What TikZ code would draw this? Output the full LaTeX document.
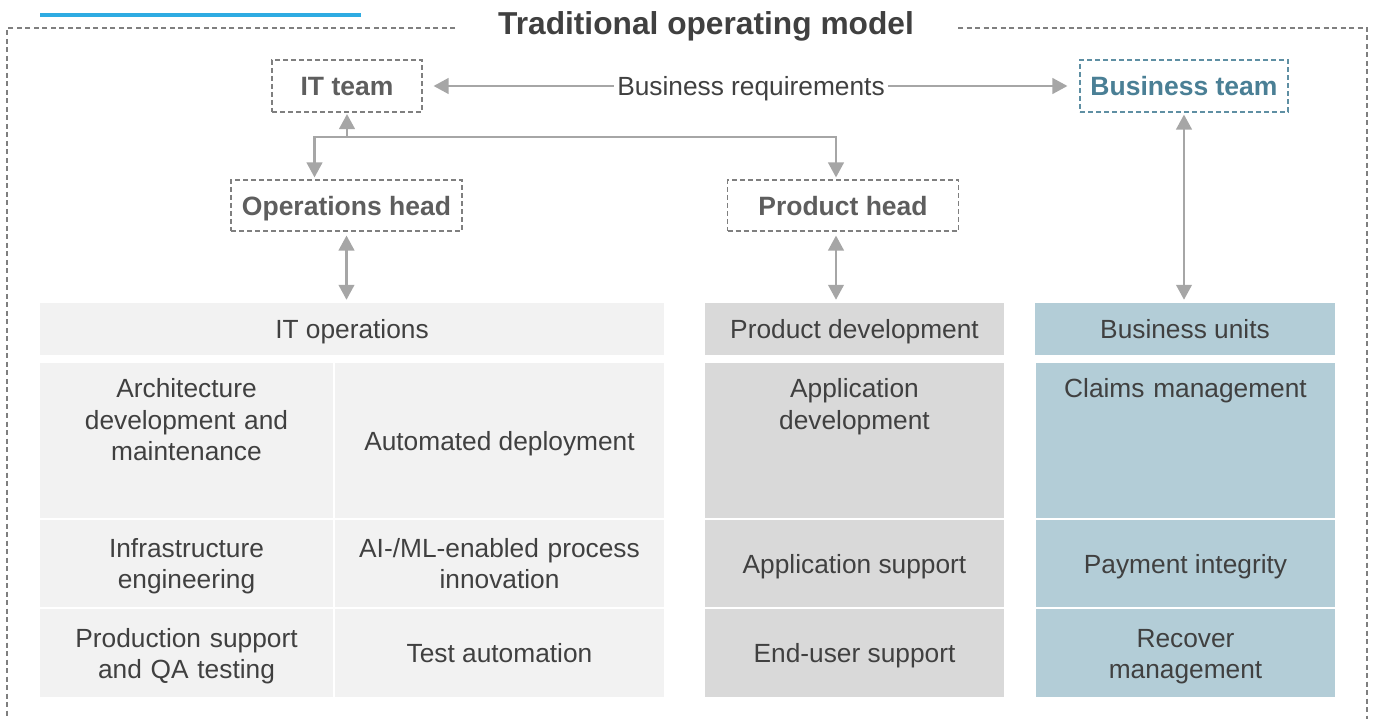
\documentclass[tikz,border=0pt]{standalone}
\usepackage{fontspec}
\setmainfont{Liberation Sans}
\usetikzlibrary{arrows.meta,calc}
\definecolor{txt}{HTML}{404040}
\definecolor{lbl}{HTML}{5E5E5E}
\definecolor{bizlbl}{HTML}{4A7F95}
\definecolor{bizdash}{HTML}{5E8FA3}
\definecolor{dashgrey}{HTML}{7F7F7F}
\definecolor{conn}{HTML}{A6A6A6}
\definecolor{fillit}{HTML}{F2F2F2}
\definecolor{fillprod}{HTML}{D9D9D9}
\definecolor{fillbiz}{HTML}{B3CDD7}
\definecolor{topblue}{HTML}{2EABE2}
\begin{document}
\begin{tikzpicture}[x=1pt,y=-1pt,
  bodyfont/.style={font=\fontsize{26.3}{31.5}\selectfont, text=txt},
  headbox/.style={draw=dashgrey, dash pattern=on 5pt off 3pt, line width=1.1pt,
    text=lbl, font=\bfseries\fontsize{26.5}{31.5}\selectfont, inner sep=0pt,
    text height=20pt, text depth=0pt},
  cell/.style={bodyfont, inner sep=0pt, text height=19pt, text depth=0pt},
  itcell/.style={cell, fill=fillit},
  prodcell/.style={cell, fill=fillprod},
  bizcell/.style={cell, fill=fillbiz},
  mltext/.style={bodyfont, inner sep=0pt, text width=320pt, align=center, anchor=base},
  conn/.style={draw=conn, line width=2.6pt, -{Triangle[length=15pt,width=15.5pt]}},
  biconn/.style={draw=conn, line width=2.6pt, {Triangle[length=15pt,width=15.5pt]}-{Triangle[length=15pt,width=15.5pt]}},
  frame/.style={draw=dashgrey, line width=1.1pt, dash pattern=on 5pt off 3.5pt}
]
\useasboundingbox (0,0) rectangle (1374,719);
\clip (0,0) rectangle (1374,719);

% top decoration and outer frame
\draw[topblue, line width=3.2pt] (40,15) -- (361,15);
\draw[frame] (455,28) -- (7,28) -- (7,740);
\draw[frame] (958,28) -- (1367,28) -- (1367,740);
\node[anchor=base, text=txt, font=\bfseries\fontsize{31.7}{36}\selectfont] (title) at (706,35) {Traditional operating model};

% head boxes
\node[headbox, minimum width=150pt, minimum height=52pt] (itteam) at (347,86) {IT team};
\node[headbox, draw=bizdash, text=bizlbl, minimum width=208pt, minimum height=52pt] (bizteam) at (1184,86) {Business team};
\node[headbox, minimum width=231pt, minimum height=51pt] (opshead) at (346.5,205.5) {Operations head};
\node[headbox, minimum width=231pt, minimum height=51pt] (prodhead) at (843,205.5) {Product head};

% column headers
\node[itcell, minimum width=624pt, minimum height=52pt] (itops) at (352,329) {IT operations};
\node[prodcell, minimum width=299pt, minimum height=52pt] (proddev) at (854.5,329) {Product development};
\node[bizcell, minimum width=300pt, minimum height=52pt] (bizunits) at (1185,329) {Business units};

% IT operations grid
\node[itcell, minimum width=293pt, minimum height=155pt] (c11) at (186.5,440.5) {};
\node[itcell, minimum width=329pt, minimum height=155pt] (c12) at (499.5,440.5) {Automated deployment};
\node[itcell, minimum width=293pt, minimum height=87pt] (c21) at (186.5,563.5) {};
\node[itcell, minimum width=329pt, minimum height=87pt] (c22) at (499.5,563.5) {};
\node[itcell, minimum width=293pt, minimum height=88pt] (c31) at (186.5,653) {};
\node[itcell, minimum width=329pt, minimum height=88pt] (c32) at (499.5,653) {Test automation};
\node[mltext] (t11) at (186.5,397.6) {Architecture\\development and\\maintenance};
\node[mltext] (t21) at (186.5,557.3) {Infrastructure\\engineering};
\node[mltext] (t22) at (499.5,557.3) {AI-/ML-enabled process\\innovation};
\node[mltext] (t31) at (186.5,647) {Production support\\and QA testing};

% Product development column
\node[prodcell, minimum width=299pt, minimum height=155pt] (p1) at (854.5,440.5) {};
\node[prodcell, minimum width=299pt, minimum height=87pt] (p2) at (854.5,563.5) {Application support};
\node[prodcell, minimum width=299pt, minimum height=88pt] (p3) at (854.5,653) {End-user support};
\node[mltext] (tp1) at (854.5,398) {Application\\development};

% Business units column
\node[bizcell, minimum width=299pt, minimum height=155pt] (b1) at (1185.5,440.5) {};
\node[bizcell, minimum width=299pt, minimum height=87pt] (b2) at (1185.5,563.5) {Payment integrity};
\node[bizcell, minimum width=299pt, minimum height=88pt] (b3) at (1185.5,653) {};
\node[mltext] (tb1) at (1185.5,398) {Claims management};
\node[mltext] (tb3) at (1185.5,647) {Recover\\management};

% connectors
\draw[biconn, shorten <=11pt, shorten >=12pt] (itteam.east) -- node[fill=white, bodyfont, inner xsep=3pt, inner ysep=2pt, text height=19pt, text depth=0pt] (breq) {Business requirements} (bizteam.west);
\coordinate (jm) at (347,137);
\coordinate (jl) at (314.5,137);
\coordinate (jr) at (836,137);
\draw[conn, shorten >=1.5pt] (jm) -- (itteam.south);
\draw[biconn, shorten <=2pt, shorten >=2pt] (opshead.north -| jl) -- (jl) -- (jr) -- (prodhead.north -| jr);
\draw[biconn, shorten <=4pt, shorten >=3pt] (opshead.south) -- (opshead.south |- itops.north);
\draw[biconn, shorten <=4pt, shorten >=3pt] (prodhead.south -| jr) -- (proddev.north -| jr);
\draw[biconn, shorten <=2pt, shorten >=3pt] (bizteam.south) -- (bizteam.south |- bizunits.north);
\end{tikzpicture}
\end{document}
